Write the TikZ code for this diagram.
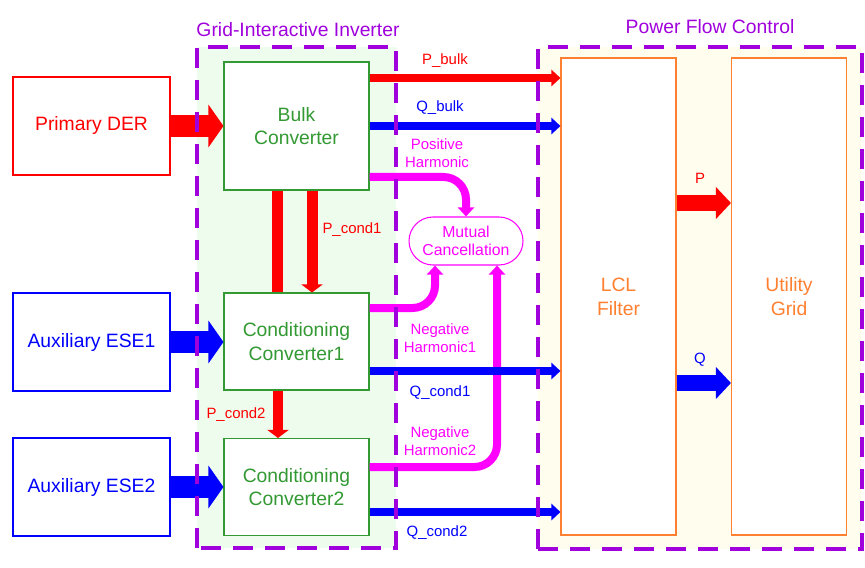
\documentclass[tikz,border=0pt]{standalone}
\usepackage{fontspec}
\setmainfont{Liberation Sans}
\usetikzlibrary{arrows.meta,calc}
\definecolor{invgreen}{RGB}{51,153,51}
\definecolor{invfill}{RGB}{238,252,238}
\definecolor{pfcfill}{RGB}{255,254,238}
\definecolor{dashpurple}{RGB}{160,0,220}
\definecolor{filtorange}{RGB}{255,128,48}
\definecolor{harmmag}{RGB}{255,0,255}
\begin{document}
\begin{tikzpicture}[
    src/.style={draw,line width=0.6pt,minimum width=3.14cm,minimum height=1.96cm,
                font=\fontsize{11}{13.5}\selectfont,align=center},
    conv/.style={draw=invgreen,line width=0.6pt,fill=white,text=invgreen,
                 minimum width=2.9cm,font=\fontsize{11}{13.5}\selectfont,align=center},
    tall/.style={draw=filtorange,line width=0.6pt,fill=white,text=filtorange,
                 minimum width=2.3cm,minimum height=9.54cm,
                 font=\fontsize{11}{13.5}\selectfont,align=center},
    lbl/.style={font=\fontsize{8.5}{10.2}\selectfont,align=center},
    grouptitle/.style={font=\fontsize{11}{13.5}\selectfont,text=dashpurple},
    region/.style={draw=dashpurple,line width=0.08cm,dash pattern=on 0.4cm off 0.24cm},
    bigarr/.style={line width=0.44cm,-{Triangle[width=0.84cm,length=0.3cm]}},
    midarr/.style={line width=0.32cm,-{Triangle[width=0.62cm,length=0.3cm]}},
    flow/.style={line width=0.16cm,-{Triangle[width=0.32cm,length=0.18cm]}},
    harm/.style={harmmag,line width=0.16cm,rounded corners=0.45cm,
                 -{Triangle[width=0.32cm,length=0.18cm]}}]
  \useasboundingbox (0,0) rectangle (17.3,11.34);
  % shaded groups
  \fill[invfill] (3.94,0.38) rectangle (7.92,10.4);
  \fill[pfcfill] (10.76,0.36) rectangle (17.24,10.4);
  \node[grouptitle] (tinv) at (5.96,10.74) {Grid-Interactive Inverter};
  \node[grouptitle] (tpfc) at (14.2,10.8) {Power Flow Control};

  % sources
  \node[src,draw=red,text=red]   (der)  at (1.83,8.82) {Primary DER};
  \node[src,draw=blue,text=blue] (ese1) at (1.83,4.5)  {Auxiliary ESE1};
  \node[src,draw=blue,text=blue] (ese2) at (1.83,1.6)  {Auxiliary ESE2};

  % converters
  \node[conv,minimum height=2.56cm] (bulk) at (5.93,8.82) {Bulk\\Converter};
  \node[conv,minimum height=1.94cm] (cc1)  at (5.93,4.51) {Conditioning\\Converter1};
  \node[conv,minimum height=1.94cm] (cc2)  at (5.93,1.6)  {Conditioning\\Converter2};

  \node[tall] (lcl)  at (12.37,5.41) {LCL\\Filter};
  \node[tall] (grid) at (15.78,5.41) {Utility\\Grid};

  \node[draw=harmmag,text=harmmag,line width=0.6pt,rounded corners=0.48cm,
        minimum width=2.28cm,minimum height=0.96cm,inner sep=1pt,
        font=\fontsize{9}{10.5}\selectfont,align=center] (mc) at (9.32,6.52)
        {Mutual\\Cancellation};

  % source feeds
  \draw[bigarr,red]  (der.east)  -- (bulk.west);
  \draw[bigarr,blue] (ese1.east) -- (ese1.east -| cc1.west);
  \draw[bigarr,blue] (ese2.east) -- (ese2.east -| cc2.west);

  % active power down the converters
  \draw[red,line width=0.22cm] ([xshift=-0.39cm]bulk.south) -- ([xshift=-0.39cm]cc1.north);
  \draw[red,line width=0.22cm,-{Triangle[width=0.42cm,length=0.16cm]}]
    ([xshift=0.31cm]bulk.south) -- ([xshift=0.31cm]cc1.north);
  \draw[red,line width=0.2cm,-{Triangle[width=0.42cm,length=0.16cm]}]
    ([xshift=-0.37cm]cc1.south) -- ([xshift=-0.37cm]cc2.north);

  % harmonics
  \draw[harm] ([yshift=-1.02cm]bulk.east) -| (mc.north);
  \draw[harm] ([yshift=0.67cm]cc1.east) -| ([xshift=-0.62cm]mc.south);
  \draw[harm] ([yshift=0.4cm]cc2.east) -| ([xshift=0.62cm]mc.south);

  % flows to the filter
  \coordinate (pb)  at ([yshift=0.96cm]bulk.east);
  \coordinate (qc1) at ([yshift=-0.59cm]cc1.east);
  \coordinate (qc2) at ([yshift=-0.5cm]cc2.east);
  \draw[flow,red]  (pb) -- (pb -| lcl.west);
  \draw[flow,blue] (bulk.east) -- (bulk.east -| lcl.west);
  \draw[flow,blue] (qc1) -- (qc1 -| lcl.west);
  \draw[flow,blue] (qc2) -- (qc2 -| lcl.west);

  \coordinate (pout) at ([yshift=1.87cm]lcl.east);
  \coordinate (qout) at ([yshift=-1.73cm]lcl.east);
  \draw[midarr,red]  (pout) -- (pout -| grid.west);
  \draw[midarr,blue] (qout) -- (qout -| grid.west);

  % labels
  \node[lbl,red]     (lpbulk) at (8.9,10.12) {P\_bulk};
  \node[lbl,blue]    (lqbulk) at (8.8,9.18)  {Q\_bulk};
  \node[lbl,harmmag] (lpos)   at (8.74,8.28) {Positive\\Harmonic};
  \node[lbl,red]     (lpc1)   at (7.04,6.74) {P\_cond1};
  \node[lbl,harmmag] (lneg1)  at (8.8,4.58)  {Negative\\Harmonic1};
  \node[lbl,blue]    (lqc1)   at (8.8,3.48)  {Q\_cond1};
  \node[lbl,harmmag] (lneg2)  at (8.8,2.52)  {Negative\\Harmonic2};
  \node[lbl,blue]    (lqc2)   at (8.74,0.68) {Q\_cond2};
  \node[lbl,red]     (lpc2)   at (4.72,3.04) {P\_cond2};
  \node[lbl,red]     (lp)     at (14.0,7.78) {P};
  \node[lbl,blue]    (lq)     at (14.0,4.14) {Q};

  % group borders on top
  \draw[region] (3.94,0.38) rectangle (7.92,10.4);
  \draw[region] (10.76,0.36) rectangle (17.24,10.4);
\end{tikzpicture}
\end{document}
